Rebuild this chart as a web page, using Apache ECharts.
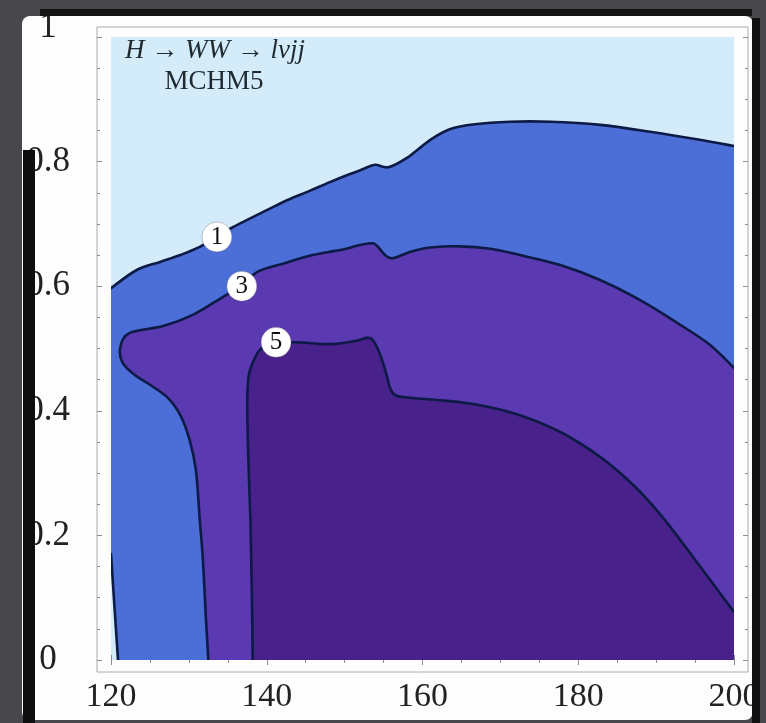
<!DOCTYPE html>
<html>
<head>
<meta charset="utf-8">
<script src="https://cdn.jsdelivr.net/npm/echarts@6/dist/echarts.min.js"></script>
<style>
  html, body { margin: 0; padding: 0; background: #47474c; }
  #chart { width: 766px; height: 723px; }
</style>
</head>
<body>
<div id="chart"></div>
<script>
// Axis ranges and tick labels
const xTicks = [120, 140, 160, 180, 200];
const yTicks = [0, 0.2, 0.4, 0.6, 0.8, 1];

// Level-1 contour: upper branch from the left edge to the right edge
const contour1Upper = [
  [120.0, 0.597], [123.3, 0.626], [126.3, 0.639], [128.9, 0.650], [131.4, 0.663],
  [133.6, 0.680], [135.7, 0.695], [140.0, 0.722], [142.6, 0.738], [145.5, 0.753],
  [148.1, 0.767], [150.7, 0.780], [152.4, 0.788], [153.9, 0.795], [155.6, 0.791],
  [158.0, 0.806], [161.0, 0.835], [163.5, 0.852], [166.7, 0.860], [171.2, 0.864],
  [176.4, 0.864], [182.8, 0.859], [189.2, 0.848], [195.6, 0.835], [200.0, 0.825]
];
// Level-1 contour: short branch in the lower-left corner
const contour1Lower = [[120.0, 0.170], [120.9, 0.0]];

// Level-3 contour: from the right edge, over the top, round the left lobe, down to the bottom
const contour3 = [
  [200.0, 0.469], [196.9, 0.506], [193.1, 0.538], [187.9, 0.578], [182.8, 0.610],
  [177.7, 0.634], [172.5, 0.650], [168.7, 0.660], [164.8, 0.664], [161.0, 0.662],
  [158.4, 0.655], [156.2, 0.645], [155.2, 0.650], [154.3, 0.663], [153.6, 0.669],
  [152.0, 0.666], [149.4, 0.658], [145.9, 0.650], [142.3, 0.637], [138.8, 0.623],
  [136.8, 0.600], [134.4, 0.583], [130.5, 0.554], [126.7, 0.536], [122.4, 0.525],
  [121.2, 0.502], [121.5, 0.477], [123.1, 0.457], [124.6, 0.445], [127.2, 0.422],
  [128.9, 0.393], [130.1, 0.353], [130.9, 0.305], [131.4, 0.225], [131.8, 0.161],
  [132.2, 0.064], [132.5, 0.0]
];

// Level-5 contour: from the bottom edge up, across the shelf, and down to the right edge
const contour5 = [
  [138.2, 0.0], [138.1, 0.096], [137.9, 0.225], [137.6, 0.337], [137.5, 0.417],
  [137.7, 0.457], [138.2, 0.477], [139.1, 0.498], [140.0, 0.502], [143.2, 0.510],
  [148.1, 0.507], [151.3, 0.512], [152.9, 0.517], [153.6, 0.514], [154.3, 0.498],
  [154.9, 0.478], [155.4, 0.457], [155.8, 0.438], [156.5, 0.425], [158.4, 0.421],
  [162.3, 0.417], [167.4, 0.409], [172.5, 0.393], [177.7, 0.366], [182.8, 0.326],
  [187.3, 0.278], [191.1, 0.225], [195.0, 0.161], [200.0, 0.077]
];

// Contour level labels and where they sit on their lines
const contourLevels = ['1', '3', '5'];
const contourLabelPos = [[133.6, 0.679], [136.8, 0.600], [141.2, 0.510]];

const SERIF = '"Liberation Serif", "DejaVu Serif", serif';
const LINE = '#0d1a45';
const FRAME = '#aaaaaa';
const X_MIN = xTicks[0], X_MAX = xTicks[xTicks.length - 1];
const Y_MIN = yTicks[0], Y_MAX = yTicks[yTicks.length - 1];
const rev = a => a.slice().reverse();

// Smooth curve through screen points (Catmull-Rom as cubic Bezier segments)
function curveThrough(px) {
  let d = '';
  for (let i = 0; i < px.length - 1; i++) {
    const p0 = px[Math.max(i - 1, 0)], p1 = px[i], p2 = px[i + 1], p3 = px[Math.min(i + 2, px.length - 1)];
    const c1 = [p1[0] + (p2[0] - p0[0]) / 6, p1[1] + (p2[1] - p0[1]) / 6];
    const c2 = [p2[0] - (p3[0] - p1[0]) / 6, p2[1] - (p3[1] - p1[1]) / 6];
    d += ' C' + c1[0] + ',' + c1[1] + ' ' + c2[0] + ',' + c2[1] + ' ' + p2[0] + ',' + p2[1];
  }
  return d;
}
const lineTo = p => ' L' + p[0] + ',' + p[1];

// A region outline is a list of pieces: contour runs (curved) and plot-edge corners (straight).
function outlinePath(pieces, api) {
  let d = '';
  pieces.forEach(function (piece, k) {
    const px = piece.pts.map(p => api.coord(p));
    if (k === 0) d += 'M' + px[0][0] + ',' + px[0][1];
    else d += lineTo(px[0]);
    if (piece.curve) d += curveThrough(px);
    else px.slice(1).forEach(p => { d += lineTo(p); });
  });
  return d + ' Z';
}

const region1 = [
  { curve: true, pts: contour1Upper },
  { curve: false, pts: [[X_MAX, Y_MIN]] },
  { curve: true, pts: rev(contour1Lower) }
];
const region3 = [
  { curve: true, pts: contour3 },
  { curve: false, pts: [[X_MAX, Y_MIN]] }
];
const region5 = [
  { curve: true, pts: contour5 },
  { curve: false, pts: [[X_MAX, Y_MIN]] }
];

function fillSeries(pieces, color) {
  return {
    type: 'custom', xAxisIndex: 0, yAxisIndex: 0, clip: true, silent: true,
    data: [[X_MIN, Y_MIN]],
    renderItem: function (params, api) {
      return { type: 'path', shape: { pathData: outlinePath(pieces, api) }, style: { fill: color, stroke: null } };
    }
  };
}

const contourLines = [contour1Upper, contour1Lower, contour3, contour5];
const lineSeries = {
  type: 'custom', xAxisIndex: 0, yAxisIndex: 0, clip: true, silent: true, z: 3,
  data: [[X_MIN, Y_MIN]],
  renderItem: function (params, api) {
    return {
      type: 'group',
      children: contourLines.map(function (c) {
        const px = c.map(p => api.coord(p));
        return {
          type: 'path',
          shape: { pathData: 'M' + px[0][0] + ',' + px[0][1] + curveThrough(px) },
          style: { fill: null, stroke: LINE, lineWidth: 2.6, lineJoin: 'round', lineCap: 'round' }
        };
      })
    };
  }
};

const tickStyle = { color: '#8c8c8c', width: 1 };
function frameAxis(extra) {
  return Object.assign({
    gridIndex: 0,
    type: 'value',
    axisLine: { show: false },
    axisTick: { show: true, inside: true, length: 5, lineStyle: tickStyle },
    minorTick: { show: true, splitNumber: 4, length: 3, lineStyle: tickStyle },
    splitLine: { show: false },
    minorSplitLine: { show: false },
    axisLabel: { show: false }
  }, extra);
}

const chart = echarts.init(document.getElementById('chart'), null, { renderer: 'canvas' });
chart.setOption({
  backgroundColor: '#47474c',
  animation: false,
  grid: [
    { left: 111, right: 32, top: 37, bottom: 63, show: true, backgroundColor: '#d4ebf9', borderWidth: 0 },
    { left: 97, right: 18, top: 27, bottom: 51, show: true, backgroundColor: 'transparent', borderColor: FRAME, borderWidth: 1 }
  ],
  xAxis: [
    frameAxis({
      min: X_MIN, max: X_MAX, interval: 20, position: 'bottom', offset: 12,
      axisLabel: { show: true, fontFamily: SERIF, fontSize: 34, color: '#222', margin: 8 }
    }),
    frameAxis({ min: X_MIN, max: X_MAX, interval: 20, position: 'top', offset: 10 }),
    { gridIndex: 1, type: 'value', show: false, min: 0, max: 1 }
  ],
  yAxis: [
    frameAxis({
      min: Y_MIN, max: Y_MAX, interval: 0.2, position: 'left', offset: 14,
      axisLabel: {
        show: true, fontFamily: SERIF, fontSize: 35, color: '#222', margin: 49, align: 'center',
        formatter: v => (v === 1 ? '{t|1}' : String(v)),
        rich: { t: { fontFamily: SERIF, fontSize: 35, color: '#222', padding: [0, 0, 18, 0] } }
      }
    }),
    frameAxis({ min: Y_MIN, max: Y_MAX, interval: 0.2, position: 'right', offset: 14 }),
    { gridIndex: 1, type: 'value', show: false, min: 0, max: 1 }
  ],
  series: [
    fillSeries(region1, '#4c6fd7'),
    fillSeries(region3, '#5a39b1'),
    fillSeries(region5, '#49218a'),
    lineSeries,
    {
      type: 'scatter',
      xAxisIndex: 0,
      yAxisIndex: 0,
      silent: true,
      z: 5,
      symbol: 'circle',
      symbolSize: 30,
      itemStyle: { color: '#ffffff', opacity: 1, borderColor: 'rgba(60,60,80,0.3)', borderWidth: 1 },
      data: contourLabelPos.map((p, i) => ({ value: p, name: contourLevels[i] })),
      label: {
        show: true, position: 'inside', formatter: p => p.name,
        fontFamily: SERIF, fontSize: 25, color: '#111'
      }
    }
  ],
  graphic: [
    // slide panel behind the figure
    { type: 'rect', z: -10, shape: { x: 22, y: 16, width: 731, height: 704, r: 8 }, style: { fill: '#fdfdfd' } },
    { type: 'rect', z: 100, shape: { x: 40, y: 9, width: 712, height: 7 }, style: { fill: '#151515' } },
    { type: 'rect', z: 100, shape: { x: 752, y: 18, width: 8, height: 705 }, style: { fill: '#111111' } },
    { type: 'rect', z: 100, shape: { x: 23, y: 150, width: 12, height: 573 }, style: { fill: '#0e0e0e' } },
    // process and model annotation
    {
      type: 'text', z: 10, x: 215, y: 51,
      style: {
        text: '{i|H} → {i|WW} → {i|lνjj}',
        font: '27px ' + SERIF, fill: '#1e2a30', align: 'center', verticalAlign: 'middle',
        rich: { i: { font: 'italic 27px ' + SERIF, fill: '#1e2a30' } }
      }
    },
    {
      type: 'text', z: 10, x: 214, y: 82,
      style: { text: 'MCHM5', font: '27px ' + SERIF, fill: '#1e2a30', align: 'center', verticalAlign: 'middle' }
    }
  ]
});
</script>
</body>
</html>
